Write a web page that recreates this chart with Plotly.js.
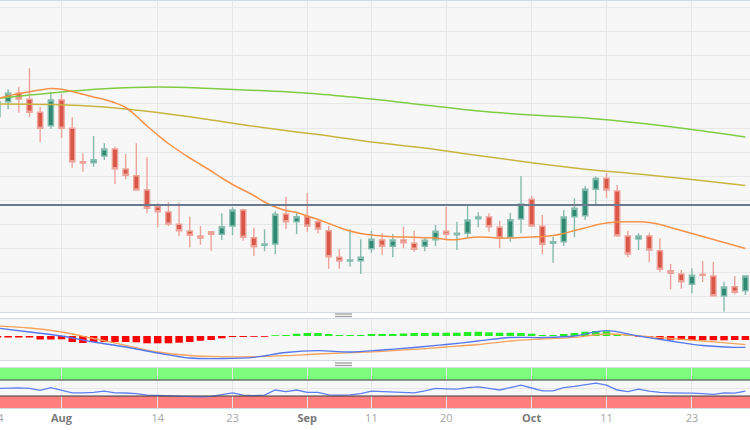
<!DOCTYPE html>
<html>
<head>
<meta charset="utf-8">
<script src="https://cdn.plot.ly/plotly-3.0.1.min.js"></script>
<style>html,body{margin:0;padding:0;background:#fff;}#chart{width:750px;height:430px;}</style>
</head>
<body>
<div id="chart"></div>
<script>
// Trading days (weekdays) Jul 24 – Oct 30, 2023
const dates = [
'2023-07-24','2023-07-25','2023-07-26','2023-07-27','2023-07-28','2023-07-31',
'2023-08-01','2023-08-02','2023-08-03','2023-08-04','2023-08-07','2023-08-08','2023-08-09','2023-08-10','2023-08-11',
'2023-08-14','2023-08-15','2023-08-16','2023-08-17','2023-08-18','2023-08-21','2023-08-22','2023-08-23','2023-08-24',
'2023-08-25','2023-08-28','2023-08-29','2023-08-30','2023-08-31',
'2023-09-01','2023-09-04','2023-09-05','2023-09-06','2023-09-07','2023-09-08','2023-09-11','2023-09-12','2023-09-13',
'2023-09-14','2023-09-15','2023-09-18','2023-09-19','2023-09-20','2023-09-21','2023-09-22','2023-09-25','2023-09-26',
'2023-09-27','2023-09-28','2023-09-29',
'2023-10-02','2023-10-03','2023-10-04','2023-10-05','2023-10-06','2023-10-09','2023-10-10','2023-10-11','2023-10-12',
'2023-10-13','2023-10-16','2023-10-17','2023-10-18','2023-10-19','2023-10-20','2023-10-23','2023-10-24','2023-10-25',
'2023-10-26','2023-10-27','2023-10-30'];

const open = [0.68833,0.68983,0.69067,0.69007,0.68877,0.68743,0.69000,0.68717,0.68383,0.68373,
0.68440,0.68510,0.68310,0.68243,0.68100,0.67933,0.67880,0.67757,0.67690,0.67640,
0.67683,0.67657,0.67740,0.67900,0.67623,0.67547,0.67560,0.67860,0.67783,0.67833,
0.67783,0.67693,0.67427,0.67390,0.67393,0.67513,0.67600,0.67537,0.67600,0.67567,
0.67537,0.67603,0.67687,0.67653,0.67667,0.67813,0.67830,0.67727,0.67627,0.67810,
0.68007,0.67737,0.67567,0.67583,0.67833,0.67843,0.68107,0.68217,0.68090,0.67640,
0.67610,0.67640,0.67493,0.67293,0.67260,0.67157,0.67257,0.67240,0.67040,0.67133,
0.67093];
const high = [0.69020,0.69107,0.69133,0.69317,0.68933,0.69083,0.69057,0.68827,0.68467,0.68640,
0.68567,0.68533,0.68460,0.68567,0.68427,0.67967,0.67977,0.67973,0.67833,0.67740,
0.67683,0.67867,0.67927,0.67910,0.67723,0.67707,0.67890,0.68033,0.67883,0.68073,
0.67810,0.67740,0.67510,0.67707,0.67607,0.67690,0.67667,0.67660,0.67733,0.67693,
0.67620,0.67750,0.67933,0.67783,0.67950,0.67877,0.67867,0.67793,0.67873,0.68240,
0.68040,0.67850,0.67633,0.67900,0.68017,0.68140,0.68237,0.68273,0.68150,0.67693,
0.67667,0.67667,0.67617,0.67360,0.67300,0.67317,0.67390,0.67383,0.67183,0.67240,
0.67250];
const low = [0.68800,0.68907,0.68873,0.68833,0.68577,0.68710,0.68623,0.68323,0.68283,0.68333,
0.68400,0.68160,0.68207,0.68100,0.67867,0.67727,0.67740,0.67640,0.67527,0.67553,
0.67493,0.67600,0.67647,0.67593,0.67440,0.67487,0.67457,0.67707,0.67660,0.67683,
0.67667,0.67313,0.67313,0.67333,0.67260,0.67473,0.67450,0.67427,0.67517,0.67483,
0.67487,0.67537,0.67607,0.67500,0.67617,0.67727,0.67683,0.67517,0.67583,0.67667,
0.67733,0.67457,0.67373,0.67540,0.67627,0.67800,0.67957,0.68023,0.67633,0.67427,
0.67500,0.67377,0.67280,0.67107,0.67113,0.67067,0.67180,0.67040,0.66883,0.67057,
0.67050];
const close = [0.68983,0.69067,0.69010,0.68877,0.68717,0.69000,0.68717,0.68383,0.68370,0.68403,
0.68510,0.68313,0.68247,0.68100,0.67917,0.67883,0.67760,0.67693,0.67647,0.67620,
0.67657,0.67733,0.67900,0.67627,0.67533,0.67560,0.67857,0.67783,0.67833,0.67740,
0.67710,0.67433,0.67390,0.67400,0.67427,0.67607,0.67537,0.67600,0.67573,0.67507,
0.67597,0.67687,0.67657,0.67667,0.67800,0.67830,0.67733,0.67620,0.67803,0.67960,
0.67740,0.67557,0.67583,0.67830,0.67917,0.68107,0.68215,0.68100,0.67643,0.67460,
0.67640,0.67500,0.67307,0.67267,0.67183,0.67247,0.67247,0.67043,0.67130,0.67077,
0.67240];

// 20-day SMA (daily)
const sma20 = [0.69015,0.69040,0.69065,0.69083,0.69100,0.69115,0.69107,0.69085,0.69057,0.69030,
0.69005,0.68972,0.68925,0.68840,0.68740,0.68650,0.68565,0.68490,0.68420,0.68355,
0.68290,0.68220,0.68155,0.68100,0.68045,0.67980,0.67930,0.67895,0.67875,0.67840,
0.67805,0.67765,0.67725,0.67690,0.67665,0.67650,0.67640,0.67633,0.67630,0.67627,
0.67623,0.67620,0.67605,0.67605,0.67620,0.67630,0.67627,0.67620,0.67620,0.67625,
0.67630,0.67635,0.67645,0.67665,0.67695,0.67720,0.67750,0.67770,0.67780,0.67783,
0.67783,0.67775,0.67755,0.67725,0.67695,0.67665,0.67635,0.67605,0.67575,0.67545,
0.67515];
// 100-day and 200-day SMA, read every 5th trading day
const sma100 = [0.68960,0.68955,0.68930,0.68875,0.68800,0.68722,0.68654,0.68580,0.68520,0.68445,0.68372,0.68308,0.68259,0.68204,0.68145];
const sma200 = [0.69015,0.69070,0.69113,0.69130,0.69115,0.69092,0.69060,0.69010,0.68950,0.68890,0.68850,0.68820,0.68770,0.68705,0.68630];
const level = 0.67950;

// MACD (pips): histogram daily, lines every 3rd trading day (+ last)
const macdHist = [-1.5,-1.5,-1.5,-1.5,-3.5,-3.5,-3.3,-6,-7,-6,
-6,-6,-6,-6.3,-7.3,-7.3,-7.3,-6.7,-6,-4.7,
-4,-2.3,-1,-1,-0.8,-0.8,0.8,1,2.3,3,
3,2,1,1,1,2,2,2,2.5,3,
3,3.3,3.3,3.3,4,4.3,3.7,3.3,3.3,3,
2.3,1,1,2,3,4.3,5,4.7,1.5,0.7,
-0.7,-1.5,-3,-3.7,-4,-4.3,-4.3,-4.3,-4.3,-4,
-4];
const macdLine = [8,4,0,-6,-11,-17,-22,-22.5,-21.3,-16.5,-14.7,-16,-14,-11.5,-8.5,-5,-1.5,-1.5,0,5.3,0,-5,-9.5,-11.3,-11.3];
const signalLine = [10,8,4,-2.5,-9.3,-16,-19.5,-20.7,-20.7,-19.7,-18,-16.7,-15.3,-13.3,-11,-8.5,-5,-3,-1.3,2,0.2,-2.3,-5,-7.7,-8.6];

// RSI daily
const rsi = [49,50.5,50.5,49,44,51,45,38,38,39,
42,38,37.5,36,32,31,30,29,28,28,
29,33,38,32,31,32,45,41,45,39,
39,33,32,33,36,42,41,41,40,38,
43,49,48,47,51,53,49,45,51,57,
50,43,43,51,54,58,62,57,45,41,
47,42,39,38,38,37,36,34,38,37,
42];

const tickDates = ['2023-07-24','2023-08-01','2023-08-14','2023-08-23','2023-09-01','2023-09-11','2023-09-20','2023-10-02','2023-10-11','2023-10-23'];
const tickLabels = ['24','Aug','14','23','Sep','11','20','Oct','11','23'];
const monthLabels = ['Aug','Sep','Oct'];

const every5 = dates.filter((d, i) => i % 5 === 0);
const every3 = dates.filter((d, i) => i % 3 === 0 || i === dates.length - 1);

const fmtTick = t => monthLabels.includes(t)
  ? '<b><span style="color:#7a7a7a">' + t + '</span></b>'
  : '<span style="color:#a6a6a6">' + t + '</span>';
const tickText = tickLabels.map(fmtTick);

const traces = [
  {type:'candlestick', x:dates, open:open, high:high, low:low, close:close, xaxis:'x', yaxis:'y',
   increasing:{line:{color:'#86bcae', width:1.4}, fillcolor:'#2f8a72'},
   decreasing:{line:{color:'#eda39a', width:1.4}, fillcolor:'#da5747'},
   whiskerwidth:0, hoverinfo:'skip'},
  {type:'scatter', mode:'lines', x:every5, y:sma200, xaxis:'x', yaxis:'y', line:{color:'#7fcc45', width:1.5, shape:'spline'}, hoverinfo:'skip'},
  {type:'scatter', mode:'lines', x:every5, y:sma100, xaxis:'x', yaxis:'y', line:{color:'#c9b443', width:1.5, shape:'spline'}, hoverinfo:'skip'},
  {type:'scatter', mode:'lines', x:dates, y:sma20, xaxis:'x', yaxis:'y', line:{color:'#f7924a', width:1.5, shape:'spline'}, hoverinfo:'skip'},
  {type:'bar', x:dates, y:macdHist, xaxis:'x2', yaxis:'y2',
   marker:{color: macdHist.map(v => v < 0 ? '#ff0000' : '#22ee22'), line:{width:0}}, hoverinfo:'skip'},
  {type:'scatter', mode:'lines', x:every3, y:signalLine, xaxis:'x2', yaxis:'y2', line:{color:'#f7a35c', width:1.3, shape:'spline'}, hoverinfo:'skip'},
  {type:'scatter', mode:'lines', x:every3, y:macdLine, xaxis:'x2', yaxis:'y2', line:{color:'#5577ee', width:1.3, shape:'spline'}, hoverinfo:'skip'},
  {type:'scatter', mode:'lines', x:dates, y:rsi, xaxis:'x3', yaxis:'y3', line:{color:'#5f7ff0', width:1.3}, hoverinfo:'skip'}
];

const H = 408; // plot-area height in px (430 - bottom margin)
const py = v => (H - v) / H;
const xCommon = {
  type:'category', tickvals:tickDates, ticktext:tickText, showgrid:true, gridcolor:'#e7e7e7', gridwidth:1,
  showline:true, mirror:true, linecolor:'#d4dae6', linewidth:1, ticks:'', zeroline:false, fixedrange:true
};

const layout = {
  width:750, height:430,
  margin:{l:0, r:0, t:0, b:22},
  paper_bgcolor:'#ffffff', plot_bgcolor:'#f7f7f7',
  showlegend:false, bargap:0.3,
  font:{family:'Open Sans, sans-serif'},
  xaxis:Object.assign({}, xCommon, {anchor:'y', range:[0.24, 70.43], showticklabels:false, rangeslider:{visible:false}}),
  xaxis2:Object.assign({}, xCommon, {anchor:'y2', matches:'x', showticklabels:false}),
  xaxis3:Object.assign({}, xCommon, {anchor:'y3', matches:'x', showticklabels:true,
    tickfont:{family:'Open Sans, sans-serif', size:11, color:'#a6a6a6'}}),
  yaxis:{domain:[py(312), py(1)], range:[0.6688, 0.6999], tick0:0.67033, dtick:0.00241,
    showticklabels:false, gridcolor:'#e7e7e7', zeroline:false, fixedrange:true},
  yaxis2:{domain:[py(360), py(319)], range:[-24, 17], showgrid:false, showticklabels:false, zeroline:false, fixedrange:true},
  yaxis3:{domain:[0, py(368)], range:[0, 100], tickvals:[50], showticklabels:false, gridcolor:'#e7e7e7', zeroline:false, fixedrange:true},
  annotations:[
    {xref:'paper', yref:'paper', x:-2.6/750, y:-0.0245, yanchor:'middle', xanchor:'center', showarrow:false,
     text:fmtTick(tickLabels[0]), font:{family:'Open Sans, sans-serif', size:11, color:'#a6a6a6'}}
  ],
  shapes:[
    {type:'line', xref:'paper', yref:'y', x0:0, x1:1, y0:level, y1:level, line:{color:'#6b7a90', width:1.8}, layer:'above'},
    {type:'rect', xref:'paper', yref:'y3', x0:0, x1:1, y0:70, y1:100, fillcolor:'#7dfb7d', line:{width:0}, layer:'below'},
    {type:'rect', xref:'paper', yref:'y3', x0:0, x1:1, y0:0, y1:30, fillcolor:'#ff7f7f', line:{width:0}, layer:'below'},
    {type:'line', xref:'paper', yref:'y3', x0:0, x1:1, y0:70, y1:70, line:{color:'#3d3d3d', width:1}},
    {type:'line', xref:'paper', yref:'y3', x0:0, x1:1, y0:30, y1:30, line:{color:'#3d3d3d', width:1}},
    {type:'line', xref:'paper', yref:'paper', x0:335/750, x1:352/750, y0:py(314), y1:py(314), line:{color:'#9d9d9d', width:1.3}},
    {type:'line', xref:'paper', yref:'paper', x0:335/750, x1:352/750, y0:py(316.5), y1:py(316.5), line:{color:'#9d9d9d', width:1.3}},
    {type:'line', xref:'paper', yref:'paper', x0:335/750, x1:352/750, y0:py(363), y1:py(363), line:{color:'#9d9d9d', width:1.3}},
    {type:'line', xref:'paper', yref:'paper', x0:335/750, x1:352/750, y0:py(365.5), y1:py(365.5), line:{color:'#9d9d9d', width:1.3}}
  ]
};

Plotly.newPlot('chart', traces, layout, {displayModeBar:false, staticPlot:true});
</script>
</body>
</html>
